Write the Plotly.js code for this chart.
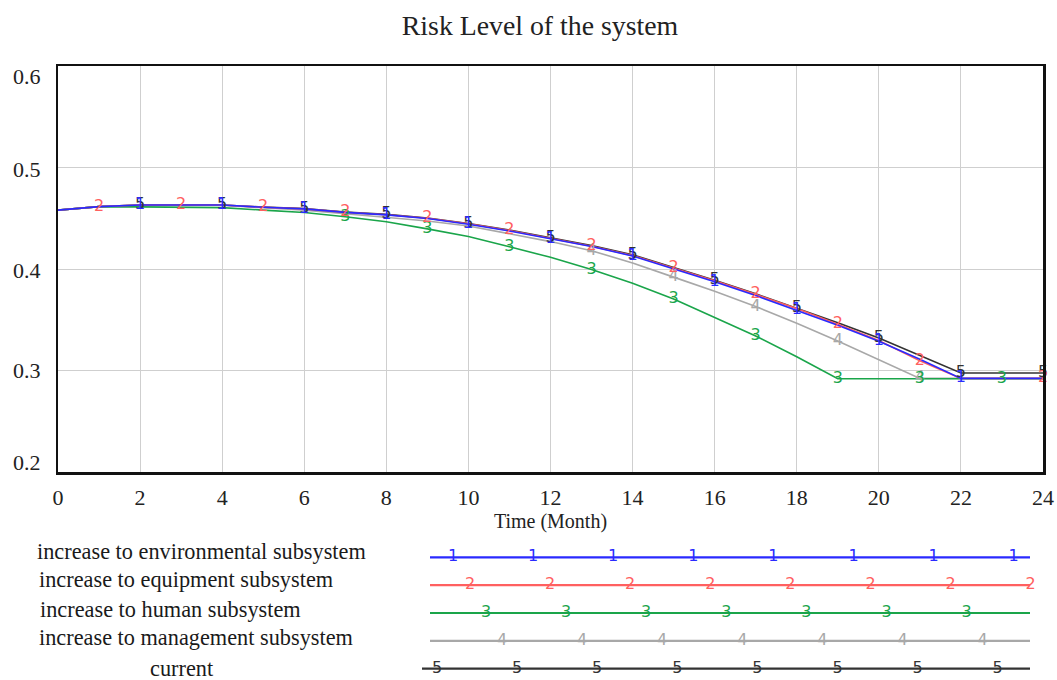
<!DOCTYPE html>
<html>
<head>
<meta charset="utf-8">
<script src="https://cdn.plot.ly/plotly-3.0.1.min.js"></script>
<style>
  html, body { margin: 0; padding: 0; background: #ffffff; }
  #chart { width: 1057px; height: 680px; }
</style>
</head>
<body>
<div id="chart"></div>
<script>
// ---------------- data ----------------
const months = [0,1,2,3,4,5,6,7,8,9,10,11,12,13,14,15,16,17,18,19,20,21,22,23,24];

const environmental = [0.458,0.4615,0.463,0.463,0.463,0.4608,0.4592,0.4558,0.4533,0.4497,0.4441,0.4375,0.4300,0.4221,0.4128,0.4005,0.3875,0.3738,0.3595,0.3445,0.3288,0.3110,0.2922,0.2922,0.2922];
const equipment     = [0.458,0.4615,0.463,0.463,0.463,0.4608,0.4592,0.4558,0.4535,0.4500,0.4445,0.4380,0.4305,0.4225,0.4132,0.4010,0.3885,0.3750,0.3610,0.3455,0.3295,0.3095,0.2922,0.2922,0.2922];
const human         = [0.458,0.4615,0.4612,0.461,0.4605,0.4580,0.4556,0.4515,0.4465,0.4395,0.4320,0.4220,0.4115,0.3995,0.3860,0.3705,0.3525,0.3340,0.3135,0.2918,0.2918,0.2918,0.2918,0.2918,0.2918];
const management    = [0.458,0.4615,0.463,0.463,0.4628,0.4603,0.4580,0.4545,0.4507,0.4473,0.4424,0.4350,0.4270,0.4180,0.4060,0.3920,0.3780,0.3630,0.3465,0.3290,0.3110,0.2922,0.2922,0.2922,0.2922];
const current       = [0.458,0.4615,0.463,0.463,0.463,0.4610,0.4595,0.4560,0.4538,0.4503,0.4448,0.4385,0.4310,0.4232,0.4140,0.4015,0.3890,0.3755,0.3615,0.3470,0.3320,0.3150,0.2975,0.2975,0.2975];

const seriesNames = ["increase to environmental subsystem","increase to equipment subsystem","increase to human subsystem","increase to management subsystem","current"];
const seriesTags  = ["1","2","3","4","5"];

// months at which each series shows a visible number tag
const envMarks     = [2,4,6,8,10,12,14,16,18,20,22];
const equipMarks   = [1,3,5,7,9,11,13,15,17,19,21,24];
const humanMarks   = [7,9,11,13,15,17,19,21,23];
const mgmtMarks    = [13,15,17,19,21];
const currentMarks = [2,4,6,8,10,12,14,16,18,20,22,24];

const xTickVals = [0,2,4,6,8,10,12,14,16,18,20,22,24];
const yTickVals = [0.2,0.3,0.4,0.5,0.6];
const yTickText = ["0.2","0.3","0.4","0.5","0.6"];

// ---------------- styles ----------------
const colors = ["#2a2aff","#ff6060","#1aa54a","#a8a8a8","#333333"];
const serif = "Liberation Serif, Times New Roman, serif";
const W = 1057, H = 680;
const plotL = 58, plotR = 1043, plotT = 66, plotB = 472;

const allSeries = [environmental, equipment, human, management, current];
const allMarks  = [envMarks, equipMarks, humanMarks, mgmtMarks, currentMarks];

const traces = [];
const drawOrder = [4,3,2,1,0];
drawOrder.forEach(i => {
  traces.push({
    x: months, y: allSeries[i], mode: "lines", type: "scatter",
    line: {color: colors[i], width: 1.6}, hoverinfo: "skip", showlegend: false,
    xaxis: "x", yaxis: "y"
  });
});
drawOrder.forEach(i => {
  traces.push({
    x: allMarks[i], y: allMarks[i].map(m => allSeries[i][months.indexOf(m)]),
    mode: "text", type: "scatter", text: allMarks[i].map(() => seriesTags[i]),
    textposition: "middle center", cliponaxis: false,
    textfont: {family: "DejaVu Sans", size: 16, color: colors[i]},
    hoverinfo: "skip", showlegend: false, xaxis: "x", yaxis: "y"
  });
});

// ---------------- bottom key (layout) ----------------
const keyLineStart = [430,430,430,430,422];
const keyLineEnd   = [1030,1030,1030,1030,1030];
const keyFirstTag  = [453,470,486,502,437];
const keyTagCount  = [8,8,7,7,8];
const keyStep = 80.1;
for (let i = 0; i < 5; i++) {
  const row = i + 1;
  traces.push({
    x: [keyLineStart[i], keyLineEnd[i]], y: [row, row], mode: "lines", type: "scatter",
    line: {color: colors[i], width: 2.2}, hoverinfo: "skip", showlegend: false,
    xaxis: "x2", yaxis: "y2"
  });
  const tx = [];
  for (let k = 0; k < keyTagCount[i]; k++) tx.push(keyFirstTag[i] + k * keyStep);
  traces.push({
    x: tx, y: tx.map(() => row), mode: "text", type: "scatter",
    text: tx.map(() => seriesTags[i]), textposition: "middle center", cliponaxis: false,
    textfont: {family: "DejaVu Sans", size: 16, color: colors[i]},
    hoverinfo: "skip", showlegend: false, xaxis: "x2", yaxis: "y2"
  });
}

const annotations = [];
const yTickShift = {"0.6": -11, "0.5": -2, "0.4": -1, "0.3": 0, "0.2": 10};
yTickVals.forEach((v, j) => {
  annotations.push({
    xref: "paper", yref: "y", x: 43 / W, y: v, xanchor: "right", yanchor: "middle",
    yshift: yTickShift[yTickText[j]], text: yTickText[j], showarrow: false,
    font: {family: serif, size: 22, color: "#222"}
  });
});
const keyLabelX = [35,37,38,37,182];
const keyLabelAnchor = ["left","left","left","left","center"];
const keyLabelShift = [6,6,4,3,0];
seriesNames.forEach((n, i) => {
  annotations.push({
    xref: "x2", yref: "y2", x: keyLabelX[i], y: i + 1, xanchor: keyLabelAnchor[i], yanchor: "middle",
    yshift: keyLabelShift[i], text: n, showarrow: false,
    font: {family: serif, size: 22.3, color: "#1a1a1a"}
  });
});

const keyTop = 540;
const rowPx = 27.85;
const keyRangeTop = 1 - (557.3 - keyTop) / rowPx;
const keyRangeBottom = keyRangeTop + (H - keyTop) / rowPx;

const layout = {
  width: W, height: H,
  margin: {l: 0, r: 0, t: 0, b: 0, pad: 0},
  paper_bgcolor: "#ffffff", plot_bgcolor: "#ffffff",
  showlegend: false,
  title: {text: "Risk Level of the system", x: 540 / W, xanchor: "center", y: 1 - 25 / H, yanchor: "middle",
          font: {family: serif, size: 27.8, color: "#222"}},
  xaxis: {
    domain: [plotL / W, plotR / W], range: [0, 24], tickvals: xTickVals, ticks: "",
    showgrid: true, gridcolor: "#cfcfcf", gridwidth: 1, zeroline: false,
    showline: true, linecolor: "#111", linewidth: 2.5, mirror: true,
    tickfont: {family: serif, size: 22, color: "#222"}, ticklabelstandoff: 4,
    title: {text: "Time (Month)", standoff: 5, font: {family: serif, size: 20, color: "#222"}},
    fixedrange: true
  },
  yaxis: {
    domain: [(H - plotB) / H, (H - plotT) / H], range: [0.2, 0.6], tickvals: yTickVals,
    showticklabels: false, ticks: "",
    showgrid: true, gridcolor: "#cfcfcf", gridwidth: 1, zeroline: false,
    showline: true, linecolor: "#111", linewidth: 2.5, mirror: true, fixedrange: true
  },
  xaxis2: {domain: [0, 1], range: [0, W], visible: false, fixedrange: true, anchor: "y2"},
  yaxis2: {domain: [0, (H - keyTop) / H], range: [keyRangeBottom, keyRangeTop], visible: false, fixedrange: true, anchor: "x2"},
  annotations: annotations
};

Plotly.newPlot("chart", traces, layout, {displayModeBar: false, staticPlot: true});
</script>
</body>
</html>
